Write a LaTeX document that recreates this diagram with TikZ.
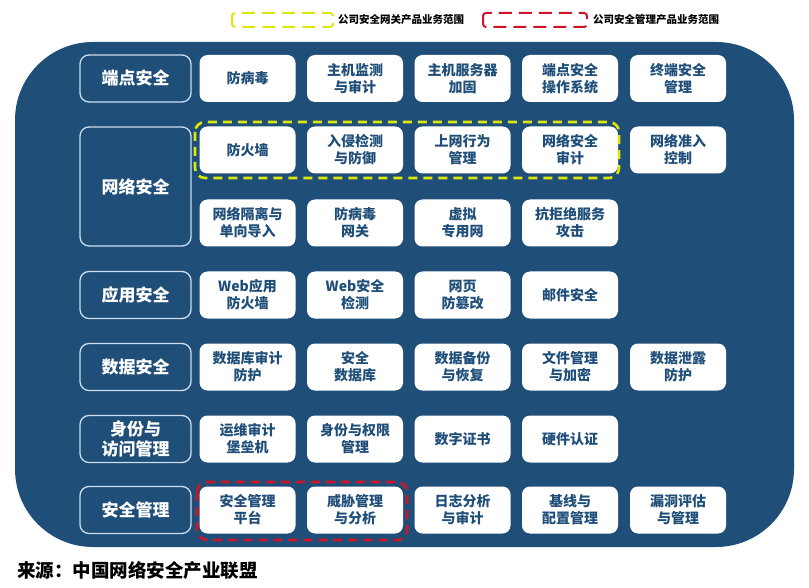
\documentclass[tikz,border=0pt]{standalone}
\usepackage{fontspec}
\setmainfont{Noto Sans CJK SC}
\definecolor{navy}{RGB}{31,78,121}
\definecolor{ylw}{RGB}{222,230,10}
\definecolor{rdd}{RGB}{205,20,40}
\definecolor{catline}{RGB}{205,222,240}
\tikzset{
  cell/.style={fill=white, rounded corners=8pt, minimum width=96pt, minimum height=47pt,
    text=navy, font=\bfseries\fontsize{14}{17}\selectfont, align=center, inner sep=0pt},
  cat/.style={draw=catline, line width=1.3pt, fill=navy, rounded corners=9pt, minimum width=111pt,
    minimum height=47pt, text=white, font=\bfseries\fontsize{17}{20}\selectfont, align=center, inner sep=0pt},
  scope/.style={dash pattern=on 9pt off 6pt, line width=2.6pt, rounded corners=10pt},
  legscope/.style={dash pattern=on 13pt off 7pt, line width=2pt, rounded corners=3pt},
  legtext/.style={anchor=west, inner sep=0pt, font=\bfseries\fontsize{10.5}{12}\selectfont}
}
\begin{document}
\begin{tikzpicture}[x=1pt,y=-1pt]
\useasboundingbox (0,0) rectangle (809,588);
\fill[navy, rounded corners=78pt] (15,42) rectangle (794,547);

% legend
\draw[legscope, ylw] (232,13) rectangle (333,27);
\node[legtext] (legY) at (338,20) {公司安全网关产品业务范围};
\draw[legscope, rdd] (483,13) rectangle (587,27);
\node[legtext] (legR) at (593,20) {公司安全管理产品业务范围};

% categories
\node[cat] (c1) at (135.5,78.5) {端点安全};
\node[cat, minimum height=119pt] (c2) at (135.5,186.5) {网络安全};
\node[cat] (c3) at (135.5,295) {应用安全};
\node[cat] (c4) at (135.5,367) {数据安全};
\node[cat] (c5) at (135.5,439) {身份与\\访问管理};
\node[cat] (c6) at (135.5,510) {安全管理};

% row 1
\node[cell] (r1a) at (247.5,78.5) {防病毒};
\node[cell] (r1b) at (355,78.5) {主机监测\\与审计};
\node[cell] (r1c) at (462.5,78.5) {主机服务器\\加固};
\node[cell] (r1d) at (570,78.5) {端点安全\\操作系统};
\node[cell] (r1e) at (678,78.5) {终端安全\\管理};
% row 2
\node[cell] (r2a) at (247.5,150) {防火墙};
\node[cell] (r2b) at (355,150) {入侵检测\\与防御};
\node[cell] (r2c) at (462.5,150) {上网行为\\管理};
\node[cell] (r2d) at (570,150) {网络安全\\审计};
\node[cell] (r2e) at (678,150) {网络准入\\控制};
% row 3
\node[cell] (r3a) at (247.5,223) {网络隔离与\\单向导入};
\node[cell] (r3b) at (355,223) {防病毒\\网关};
\node[cell] (r3c) at (462.5,223) {虚拟\\专用网};
\node[cell] (r3d) at (570,223) {抗拒绝服务\\攻击};
% row 4
\node[cell] (r4a) at (247.5,295) {Web应用\\防火墙};
\node[cell] (r4b) at (355,295) {Web安全\\检测};
\node[cell] (r4c) at (462.5,295) {网页\\防篡改};
\node[cell] (r4d) at (570,295) {邮件安全};
% row 5
\node[cell] (r5a) at (247.5,367) {数据库审计\\防护};
\node[cell] (r5b) at (355,367) {安全\\数据库};
\node[cell] (r5c) at (462.5,367) {数据备份\\与恢复};
\node[cell] (r5d) at (570,367) {文件管理\\与加密};
\node[cell] (r5e) at (678,367) {数据泄露\\防护};
% row 6
\node[cell] (r6a) at (247.5,439) {运维审计\\堡垒机};
\node[cell] (r6b) at (355,439) {身份与权限\\管理};
\node[cell] (r6c) at (462.5,439) {数字证书};
\node[cell] (r6d) at (570,439) {硬件认证};
% row 7
\node[cell] (r7a) at (247.5,510) {安全管理\\平台};
\node[cell] (r7b) at (355,510) {威胁管理\\与分析};
\node[cell] (r7c) at (462.5,510) {日志分析\\与审计};
\node[cell] (r7d) at (570,510) {基线与\\配置管理};
\node[cell] (r7e) at (678,510) {漏洞评估\\与管理};

% scopes
\draw[scope, ylw] (195,122) rectangle (619,178);
\draw[scope, rdd] (197,482) rectangle (407,540);

% source
\node[anchor=west, inner sep=0pt, font=\bfseries\fontsize{18.5}{22}\selectfont] (src) at (17,570) {来源：中国网络安全产业联盟};
\end{tikzpicture}
\end{document}
